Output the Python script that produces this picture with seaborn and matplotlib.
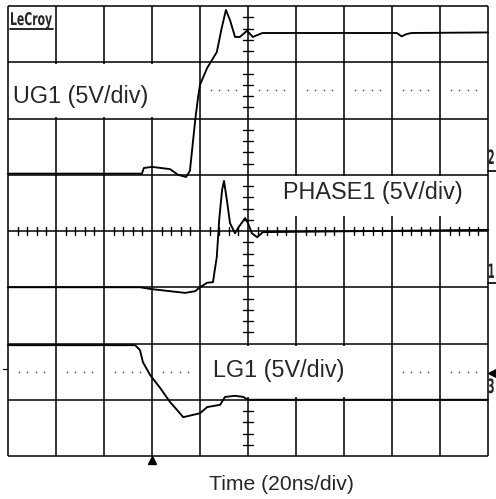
import numpy as np
import pandas as pd
import matplotlib
matplotlib.use("Agg")
import matplotlib.pyplot as plt
import seaborn as sns
from matplotlib.patches import Rectangle
from matplotlib.patheffects import AbstractPathEffect
from matplotlib.transforms import Affine2D

# ---- data (time in divisions, amplitude in divisions) ----
ug1_t = [0, 2.79, 2.83, 3.0, 3.375, 3.54, 3.71, 3.79, 3.9, 3.96, 4.0, 4.15, 4.35,
         4.45, 4.54, 4.625, 4.73, 4.83, 4.98, 5.1, 5.3, 8.1, 8.2, 8.3, 8.4, 10.0]
ug1_v = [5.02, 5.02, 5.12, 5.14, 5.1, 5.0, 4.96, 5.07, 5.97, 6.38, 6.6, 6.9, 7.18,
         7.6, 7.93, 7.75, 7.45, 7.45, 7.56, 7.45, 7.52, 7.52, 7.46, 7.5, 7.52, 7.53]

phase1_t = [0, 2.75, 2.96, 3.375, 3.69, 3.9, 4.0, 4.15, 4.27, 4.35, 4.4, 4.46, 4.5,
            4.56, 4.625, 4.73, 4.79, 4.94, 5.0, 5.08, 5.19, 5.31, 10.0]
phase1_v = [3.0, 3.0, 2.97, 2.93, 2.90, 2.93, 3.0, 3.08, 3.09, 3.54, 4.2, 4.73, 4.89,
            4.55, 4.14, 3.96, 4.05, 4.23, 4.14, 3.96, 3.89, 3.98, 4.02]

lg1_t = [0, 2.65, 2.75, 2.81, 2.96, 3.17, 3.375, 3.52, 3.65, 4.0, 4.15, 4.42, 4.52,
         4.73, 4.9, 5.0, 10.0]
lg1_v = [1.97, 1.97, 1.88, 1.67, 1.44, 1.21, 0.96, 0.82, 0.69, 0.76, 0.87, 0.91, 1.05,
         1.07, 1.05, 1.0, 1.0]

trace_labels = ["UG1 (5V/div)", "PHASE1 (5V/div)", "LG1 (5V/div)"]
channel_labels = ["2", "1", "3"]
xlabel = "Time (20ns/div)"

df = pd.concat([
    pd.DataFrame({"t": ug1_t, "v": ug1_v, "ch": "UG1"}),
    pd.DataFrame({"t": phase1_t, "v": phase1_v, "ch": "PHASE1"}),
    pd.DataFrame({"t": lg1_t, "v": lg1_v, "ch": "LG1"}),
], ignore_index=True)

sns.set_style("white")
plt.rcParams["font.family"] = ["Liberation Sans", "DejaVu Sans"]


class Condense(AbstractPathEffect):
    """Squeeze glyphs horizontally about their left (or right) edge."""
    def __init__(self, sx, anchor="left"):
        super().__init__()
        self.sx = sx
        self.anchor = anchor

    def draw_path(self, renderer, gc, tpath, affine, rgbFace=None):
        if self.anchor == "right":
            ext = tpath.get_extents(affine)
            x0 = ext.x1
        else:
            x0 = affine.transform((0, 0))[0]
        aff = affine + Affine2D().translate(-x0, 0).scale(self.sx, 1).translate(x0, 0)
        renderer.draw_path(gc, tpath, aff, rgbFace)


fig = plt.figure(figsize=(4.96, 4.99), dpi=100)
ax = fig.add_axes([0, 0, 1, 1])

K = "black"
glw = 1.1
# grid
for i in range(11):
    ax.plot([i, i], [0, 8], color=K, lw=glw, zorder=1, solid_capstyle="butt")
for j in range(9):
    ax.plot([0, 10], [j, j], color=K, lw=glw, zorder=1, solid_capstyle="butt")
# center ticks
for k in range(1, 50):
    x = k * 0.2
    if abs(x - round(x)) > 1e-6:
        ax.plot([x, x], [4 - 0.075, 4 + 0.075], color=K, lw=1.0, zorder=1)
for k in range(1, 40):
    y = k * 0.2
    if abs(y - round(y)) > 1e-6:
        ax.plot([5 - 0.1, 5 + 0.1], [y, y], color=K, lw=1.0, zorder=1)

# dotted reference rows
for row_y in (6.5, 1.5):
    xs = [d + f for d in range(10) for f in (0.22, 0.4, 0.58, 0.76)]
    ax.plot(xs, [row_y] * len(xs), linestyle="none", marker="s", markersize=1.1,
            color="#555555", markeredgewidth=0, zorder=1)

# white label boxes (cover grid)
def pbox(x0, x1, y0, y1):
    X0, X1 = (x0 - 8) / 48, (x1 - 8) / 48
    Y0, Y1 = (456 - y1) / 56.25, (456 - y0) / 56.25
    ax.add_patch(Rectangle((X0, Y0), X1 - X0, Y1 - Y0, facecolor="white",
                           edgecolor="none", zorder=2))

pbox(9, 197, 64, 117)
pbox(258, 476, 176, 216)
pbox(203, 390, 346, 397)

# traces
sns.lineplot(data=df, x="t", y="v", units="ch", estimator=None, sort=False,
             color="black", lw=1.35, ax=ax, zorder=3, legend=False)
ax.set_xlim(-8 / 48, 488 / 48)
ax.set_ylim(-43 / 56.25, 456 / 56.25)
ax.axis("off")

def px(x, y):
    return (x - 8) / 48, (456 - y) / 56.25

fs = 16.8
ax.text(*px(13, 96), trace_labels[0], fontsize=fs, va="center", ha="left", zorder=4)
ax.text(*px(283, 192), trace_labels[1], fontsize=fs, va="center", ha="left", zorder=4)
ax.text(*px(213, 370), trace_labels[2], fontsize=fs, va="center", ha="left", zorder=4)
ax.text(*px(281, 484), xlabel, fontsize=15.2, va="center", ha="center")

# LeCroy logo
ax.text(*px(10, 25), "LeCroy", fontsize=12.6, fontweight="bold", family="DejaVu Sans",
        va="baseline", ha="left", path_effects=[Condense(0.62, "left")])
ax.plot([px(10, 28)[0], px(53, 28)[0]], [px(0, 28.5)[1]] * 2, color=K, lw=1.2)

# right channel markers
for lab, yb, yu in zip(channel_labels, (164, 278, 393), (171, 283, None)):
    ax.text(*px(495.5, yb), lab, fontsize=14.2, fontweight="bold", family="DejaVu Sans",
            va="baseline", ha="right", path_effects=[Condense(0.52, "right")])
    if yu is not None:
        ax.plot([px(488, 0)[0], px(497, 0)[0]], [px(0, yu)[1]] * 2, color=K, lw=1.2)
ax.plot(*px(492, 373), marker="<", markersize=6, color=K)
# left small mark
ax.plot([px(3, 0)[0], px(7, 0)[0]], [px(0, 369)[1]] * 2, color=K, lw=0.9)
# trigger marker
ax.plot(*px(152, 460), marker="^", markersize=6, color=K)

fig.savefig("out.png", dpi=100)
